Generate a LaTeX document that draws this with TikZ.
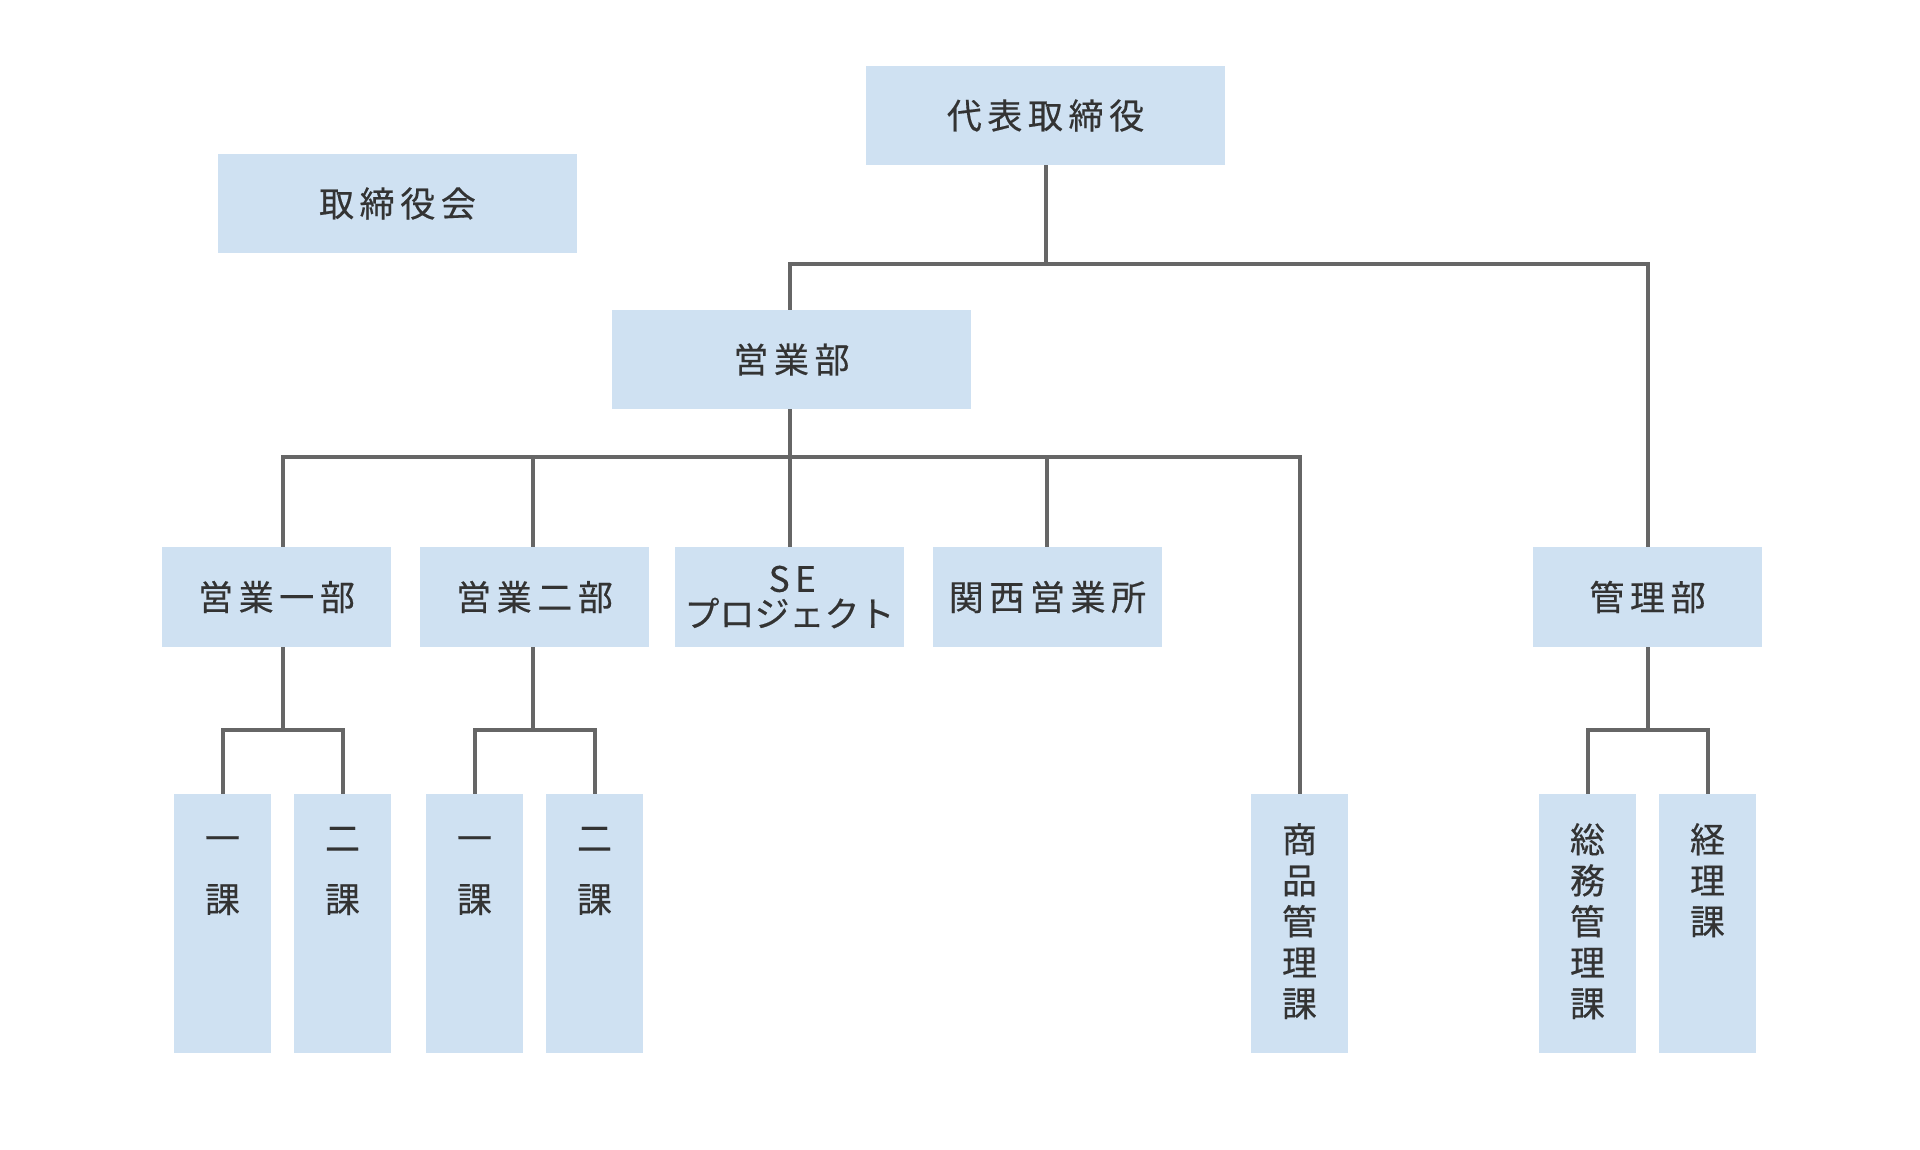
\documentclass[tikz,border=0pt]{standalone}
\usepackage{fontspec}
\setmainfont{Noto Sans CJK JP}
\newfontfamily\jp[LetterSpace=16,FakeBold=0.4]{Noto Sans CJK JP}
\newfontfamily\jpk[FakeBold=0.4]{Noto Sans CJK JP}
\newfontfamily\jpv[FakeBold=0.4]{Noto Sans CJK JP}
\definecolor{boxfill}{HTML}{CFE1F2}
\definecolor{linec}{HTML}{666666}
\definecolor{textc}{HTML}{333333}
\begin{document}
\begin{tikzpicture}[x=1pt,y=-1pt,
  bigbox/.style={rectangle, fill=boxfill, minimum width=359pt, minimum height=99pt, inner sep=0pt, text=textc, font=\jp\fontsize{35}{35}\selectfont, align=center},
  midbox/.style={rectangle, fill=boxfill, minimum width=229pt, minimum height=100pt, inner sep=0pt, text=textc, font=\jp\fontsize{35}{35}\selectfont, align=center},
  tallbox/.style={rectangle, fill=boxfill, minimum width=97pt, minimum height=259pt, inner sep=0pt},
  vtext/.style={anchor=north, inner sep=0pt, text=textc, font=\jpv\fontsize{35}{41}\selectfont, align=center},
  conn/.style={draw=linec, line width=4pt, line join=miter}
]
\useasboundingbox[fill=white] (0,0) rectangle (1920,1150);

\coordinate (j1) at (1045.5,264);
\coordinate (j2) at (790,457);
\coordinate (j3) at (283,730);
\coordinate (j4) at (533,730);
\coordinate (j5) at (1648,730);

% boxes
\node[bigbox] (board) at (397.5,203.5) {取締役会};
\node[bigbox] (ceo) at (1045.5,115.5) {代表取締役};
\node[bigbox] (sales) at (791.5,359.5) {営業部};
\node[midbox] (s1) at (276.5,597) {営業一部};
\node[midbox] (s2) at (534.5,597) {営業二部};
\node[midbox] (se) at (789.5,597) {\hspace{5.6pt}SE\\{\jpk プロジェクト}};
\node[midbox] (kansai) at (1047.5,597) {関西営業所};
\node[midbox] (admin) at (1647.5,597) {管理部};
\node[tallbox] (s1a) at (222.5,923.5) {};
\node[tallbox] (s1b) at (342.5,923.5) {};
\node[tallbox] (s2a) at (474.5,923.5) {};
\node[tallbox] (s2b) at (594.5,923.5) {};
\node[tallbox] (goods) at (1299.5,923.5) {};
\node[tallbox] (general) at (1587.5,923.5) {};
\node[tallbox] (acct) at (1707.5,923.5) {};

% vertical labels
\node[vtext] (t1) at (222.5,823) {\vphantom{課}一\\[20pt]課};
\node[vtext] (t2) at (342.5,823) {\vphantom{課}二\\[20pt]課};
\node[vtext] (t3) at (474.5,823) {\vphantom{課}一\\[20pt]課};
\node[vtext] (t4) at (594.5,823) {\vphantom{課}二\\[20pt]課};
\node[vtext] (t5) at (1299.5,823) {商\\品\\管\\理\\課};
\node[vtext] (t6) at (1587.5,823) {総\\務\\管\\理\\課};
\node[vtext] (t7) at (1707.5,823) {経\\理\\課};

% connectors
\draw[conn] (ceo.south) -- (j1);
\draw[conn] (sales.north -| j2) |- (j1) -| (admin.north);
\draw[conn] (sales.south -| j2) -- (j2);
\draw[conn] (s1.north -| j3) |- (j2) -| (goods.north);
\draw[conn] (s2.north -| j4) -- (j2 -| j4);
\draw[conn] (se.north -| j2) -- (j2);
\draw[conn] (kansai.north -| 1047,0) -- (j2 -| 1047,0);
\draw[conn] (s1.south -| j3) -- (j3);
\draw[conn] (s1a.north) |- (j3) -| (s1b.north);
\draw[conn] (s2.south -| j4) -- (j4);
\draw[conn] (s2a.north) |- (j4) -| (s2b.north);
\draw[conn] (admin.south -| j5) -- (j5);
\draw[conn] (general.north) |- (j5) -| (acct.north);
\end{tikzpicture}
\end{document}
